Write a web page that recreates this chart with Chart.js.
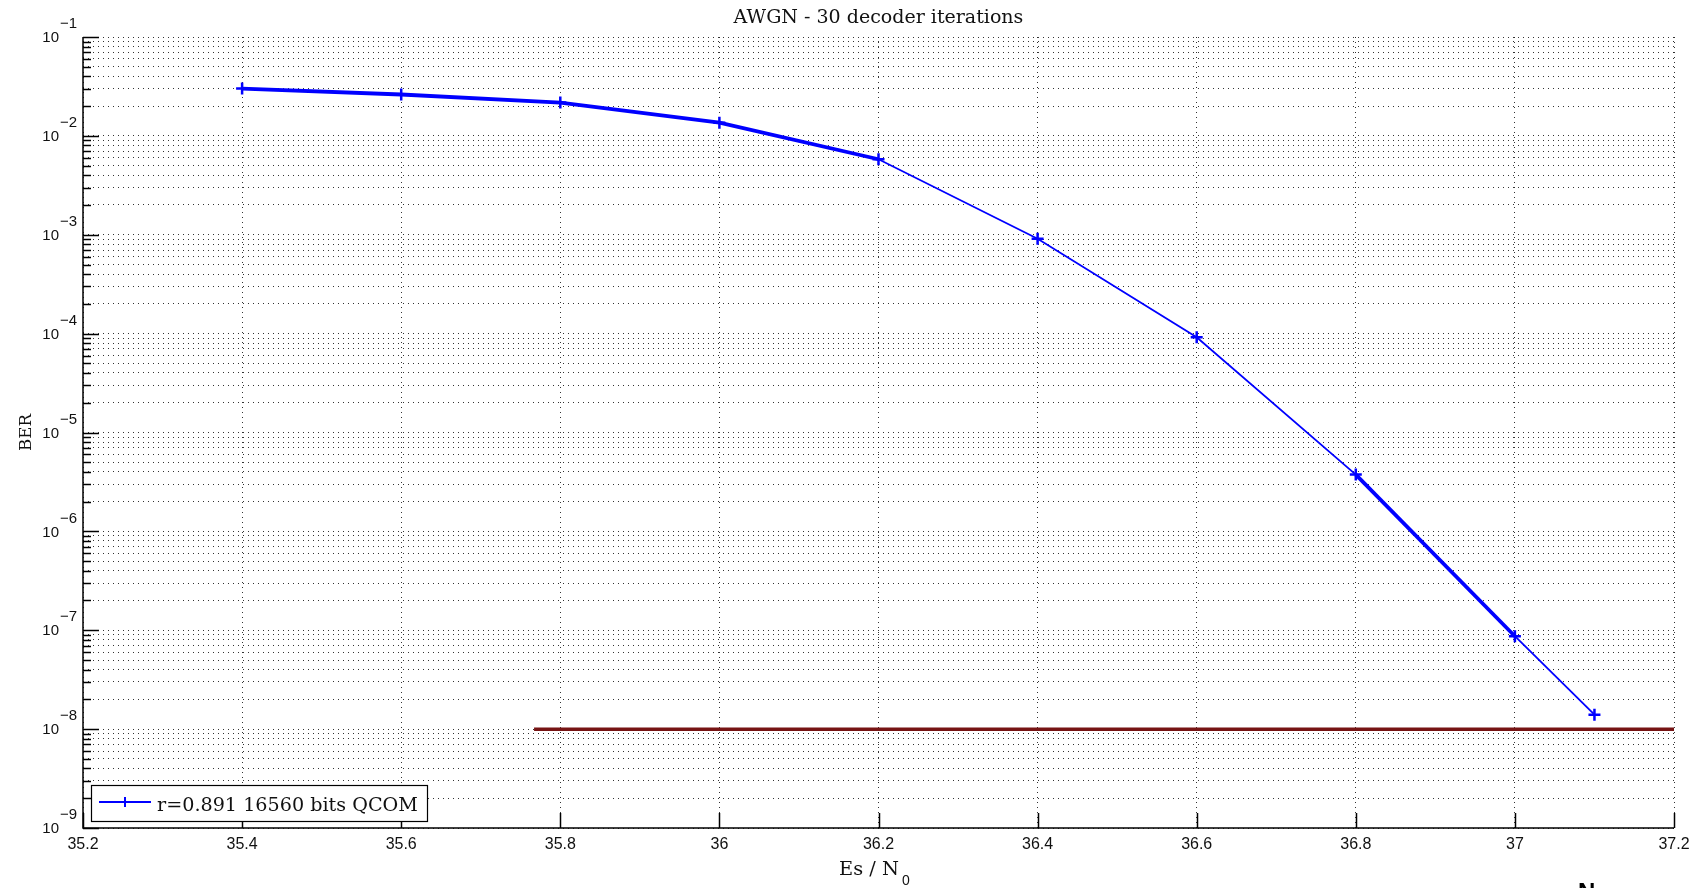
<!DOCTYPE html>
<html>
<head>
<meta charset="utf-8">
<script src="https://cdn.jsdelivr.net/npm/chart.js@4/dist/chart.umd.min.js"></script>
<style>
html, body { margin: 0; padding: 0; background: #fff; }
#wrap { position: relative; width: 1701px; height: 888px; }
</style>
</head>
<body>
<div id="wrap"><canvas id="ber-chart"></canvas></div>
<script>
// values
const esNo = [35.4, 35.6, 35.8, 36.0, 36.2, 36.4, 36.6, 36.8, 37.0, 37.1];
const ber = [3.01e-2, 2.62e-2, 2.17e-2, 1.36e-2, 5.8e-3, 9.1e-4, 9.2e-5, 3.75e-6, 8.7e-8, 1.40e-8];
const targetEsNo = [35.767, 37.2];
const targetBer = [1e-8, 1e-8];

const xTicks = [35.2, 35.4, 35.6, 35.8, 36.0, 36.2, 36.4, 36.6, 36.8, 37.0, 37.2];
const xTickLabels = ["35.2", "35.4", "35.6", "35.8", "36", "36.2", "36.4", "36.6", "36.8", "37", "37.2"];
const yExponents = [-9, -8, -7, -6, -5, -4, -3, -2, -1];
const yTickLabels = ["\u22129", "\u22128", "\u22127", "\u22126", "\u22125", "\u22124", "\u22123", "\u22122", "\u22121"];

const seriesLabel = "r=0.891 16560 bits QCOM";

// log grid: 1..9 x 10^e for each decade, plus the top decade
const yGrid = [];
yExponents.forEach((e) => {
    if (e === -1) {
        yGrid.push({ value: Math.pow(10, e), major: true });
        return;
    }
    for (let m = 1; m <= 9; m++) {
        yGrid.push({ value: m * Math.pow(10, e), major: m === 1 });
    }
});

const serif = "'DejaVu Serif', serif";
const sans = "'Liberation Sans', Arial, sans-serif";

function fitFont(ctx, text, family, width) {
    ctx.font = "100px " + family;
    const size = (100 * width) / ctx.measureText(text).width;
    ctx.font = size.toFixed(2) + "px " + family;
}

const matlabLook = {
    id: "matlabLook",
    afterDraw: (chart) => {
        const ctx = chart.ctx;
        const area = chart.chartArea;
        const xs = chart.scales.x;
        const ys = chart.scales.y;
        ctx.save();

        // axes
        ctx.strokeStyle = "#000";
        ctx.lineWidth = 1.5;
        ctx.beginPath();
        ctx.moveTo(area.left, area.top);
        ctx.lineTo(area.left, area.bottom);
        ctx.lineTo(area.right, area.bottom);
        ctx.stroke();

        // y ticks
        yGrid.forEach((t) => {
            const y = Math.round(ys.getPixelForValue(t.value)) + 0.5;
            const len = t.major ? 16 : 8;
            ctx.beginPath();
            ctx.moveTo(area.left, y);
            ctx.lineTo(area.left + len, y);
            ctx.stroke();
        });

        // x ticks
        xTicks.forEach((v) => {
            const x = Math.round(xs.getPixelForValue(v)) + 0.5;
            ctx.beginPath();
            ctx.moveTo(x, area.bottom);
            ctx.lineTo(x, area.bottom - 15);
            ctx.stroke();
        });

        // y tick labels 10^e
        ctx.fillStyle = "#111";
        yExponents.forEach((e, i) => {
            const y = ys.getPixelForValue(Math.pow(10, e));
            ctx.font = "15px " + sans;
            ctx.textAlign = "right";
            ctx.textBaseline = "middle";
            ctx.fillText("10", area.left - 24, y + 1);
            ctx.textAlign = "left";
            ctx.fillText(yTickLabels[i], area.left - 23, y - 13);
        });

        // x tick labels
        ctx.font = "16px " + sans;
        ctx.textAlign = "center";
        ctx.textBaseline = "alphabetic";
        xTicks.forEach((v, i) => {
            ctx.fillText(xTickLabels[i], xs.getPixelForValue(v), 849);
        });

        // title
        const cx = (area.left + area.right) / 2;
        fitFont(ctx, "AWGN - 30 decoder iterations", serif, 290);
        ctx.textAlign = "center";
        ctx.fillText("AWGN - 30 decoder iterations", cx, 23);

        // x label Es / N0
        fitFont(ctx, "Es / N", serif, 60);
        ctx.textAlign = "left";
        ctx.fillText("Es / N", 839, 875);
        ctx.font = "14px " + sans;
        ctx.fillText("0", 902, 885);

        // y label
        ctx.save();
        ctx.translate(31, (area.top + area.bottom) / 2);
        ctx.rotate(-Math.PI / 2);
        fitFont(ctx, "BER", serif, 37);
        ctx.textAlign = "center";
        ctx.fillText("BER", 0, 0);
        ctx.restore();

        // legend box
        const ds = chart.data.datasets[0];
        ctx.fillStyle = "#fff";
        ctx.fillRect(91, 785, 337, 37);
        ctx.strokeStyle = "#000";
        ctx.lineWidth = 1.2;
        ctx.strokeRect(91.5, 785.5, 336, 36);
        ctx.strokeStyle = ds.borderColor;
        ctx.lineWidth = 2;
        ctx.beginPath();
        ctx.moveTo(99, 802);
        ctx.lineTo(151, 802);
        ctx.moveTo(125, 797);
        ctx.lineTo(125, 807);
        ctx.stroke();
        ctx.fillStyle = "#111";
        fitFont(ctx, ds.label, serif, 261);
        ctx.textAlign = "left";
        ctx.fillText(ds.label, 157, 811);

        // stray label cut at the bottom edge
        ctx.font = "bold 24px " + sans;
        ctx.fillStyle = "#000";
        ctx.fillText("N", 1578, 900);

        ctx.restore();
    },
};

const thinSegments = [4, 5, 6, 8];

new Chart(document.getElementById("ber-chart"), {
    type: "line",
    data: {
        datasets: [
            {
                label: seriesLabel,
                data: esNo.map((x, i) => ({ x: x, y: ber[i] })),
                borderColor: "#0000ff",
                backgroundColor: "#0000ff",
                borderWidth: 2,
                pointStyle: "cross",
                pointRadius: 6,
                pointBorderWidth: 2.5,
                tension: 0,
                segment: {
                    borderWidth: (c) => (thinSegments.includes(c.p0DataIndex) ? 1.8 : 3.8),
                },
            },
            {
                label: "target",
                data: targetEsNo.map((x, i) => ({ x: x, y: targetBer[i] })),
                borderColor: "#761414",
                borderWidth: 3.5,
                pointRadius: 0,
                tension: 0,
            },
        ],
    },
    options: {
        responsive: true,
        maintainAspectRatio: false,
        animation: false,
        layout: {
            padding: { left: 83, top: 37, right: 27, bottom: 60 },
        },
        plugins: {
            legend: { display: false },
            tooltip: { enabled: false },
            title: { display: false },
        },
        scales: {
            x: {
                type: "linear",
                min: 35.2,
                max: 37.2,
                afterBuildTicks: (scale) => {
                    scale.ticks = xTicks.map((v) => ({ value: v }));
                },
                afterFit: (scale) => {
                    scale.height = 0;
                },
                ticks: { display: false },
                border: { display: false, dash: [1, 4] },
                grid: {
                    color: "rgba(0,0,0,0.8)",
                    lineWidth: 1,
                    drawTicks: false,
                },
            },
            y: {
                type: "logarithmic",
                min: 1e-9,
                max: 1e-1,
                afterBuildTicks: (scale) => {
                    scale.ticks = yGrid.map((t) => ({ value: t.value, major: t.major }));
                },
                afterFit: (scale) => {
                    scale.width = 0;
                },
                ticks: { display: false },
                border: { display: false, dash: [1, 4] },
                grid: {
                    color: "rgba(0,0,0,0.8)",
                    lineWidth: 1,
                    drawTicks: false,
                },
            },
        },
    },
    plugins: [matlabLook],
});
</script>
</body>
</html>
